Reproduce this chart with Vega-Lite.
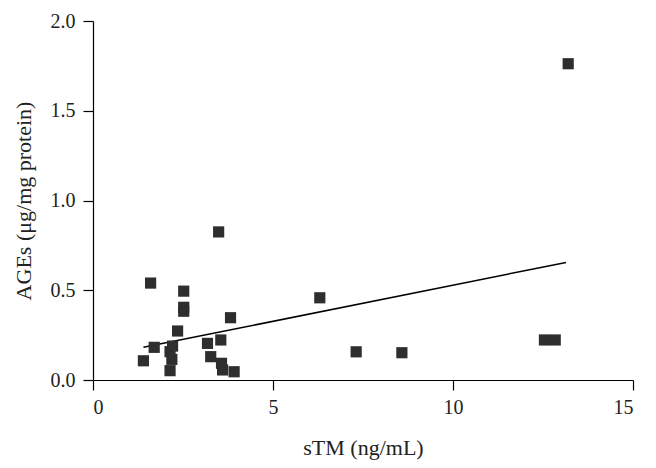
{
  "$schema": "https://vega.github.io/schema/vega-lite/v6.json",
  "width": 540,
  "height": 359,
  "autosize": {"type": "none"},
  "padding": {"left": 93, "top": 21, "right": 23, "bottom": 88},
  "background": "white",
  "config": {
    "view": {"stroke": null},
    "axis": {
      "grid": false,
      "domainColor": "#000000",
      "domainWidth": 1.2,
      "tickColor": "#000000",
      "tickWidth": 1.2,
      "tickSize": 10,
      "labelFont": "Liberation Serif",
      "labelFontSize": 20,
      "labelColor": "#222222",
      "titleFont": "Liberation Serif",
      "titleFontSize": 22,
      "titleFontWeight": "normal",
      "titleColor": "#222222"
    }
  },
  "datasets": {
    "points": [
      {"sTM": 1.40, "AGEs": 0.107},
      {"sTM": 1.60, "AGEs": 0.540},
      {"sTM": 1.70, "AGEs": 0.182},
      {"sTM": 2.14, "AGEs": 0.052},
      {"sTM": 2.19, "AGEs": 0.115},
      {"sTM": 2.14, "AGEs": 0.158},
      {"sTM": 2.21, "AGEs": 0.189},
      {"sTM": 2.35, "AGEs": 0.273},
      {"sTM": 2.52, "AGEs": 0.495},
      {"sTM": 2.52, "AGEs": 0.405},
      {"sTM": 2.52, "AGEs": 0.383},
      {"sTM": 3.18, "AGEs": 0.204},
      {"sTM": 3.27, "AGEs": 0.130},
      {"sTM": 3.49, "AGEs": 0.825},
      {"sTM": 3.55, "AGEs": 0.223},
      {"sTM": 3.57, "AGEs": 0.093},
      {"sTM": 3.60, "AGEs": 0.056},
      {"sTM": 3.82, "AGEs": 0.347},
      {"sTM": 3.92, "AGEs": 0.046},
      {"sTM": 6.30, "AGEs": 0.458},
      {"sTM": 7.31, "AGEs": 0.157},
      {"sTM": 8.58, "AGEs": 0.152},
      {"sTM": 12.54, "AGEs": 0.223},
      {"sTM": 12.84, "AGEs": 0.223},
      {"sTM": 13.20, "AGEs": 1.762}
    ],
    "fit": [
      {"sTM": 1.40, "AGEs": 0.182},
      {"sTM": 13.14, "AGEs": 0.655}
    ]
  },
  "layer": [
    {
      "data": {"name": "fit"},
      "mark": {"type": "line", "color": "#000000", "strokeWidth": 1.5},
      "encoding": {
        "x": {"field": "sTM", "type": "quantitative"},
        "y": {"field": "AGEs", "type": "quantitative"}
      }
    },
    {
      "data": {"name": "points"},
      "mark": {"type": "point", "shape": "square", "filled": true, "size": 125, "color": "#2e2e2e", "opacity": 1},
      "encoding": {
        "x": {
          "field": "sTM", "type": "quantitative",
          "scale": {"domain": [0, 15], "nice": false, "zero": false},
          "axis": {"values": [0, 5, 10, 15], "title": "sTM (ng/mL)", "labelPadding": 7, "titlePadding": 20}
        },
        "y": {
          "field": "AGEs", "type": "quantitative",
          "scale": {"domain": [0, 2], "nice": false, "zero": false},
          "axis": {"values": [0, 0.5, 1, 1.5, 2], "format": ".1f", "title": "AGEs (μg/mg protein)", "labelPadding": 8, "titlePadding": 15}
        }
      }
    }
  ]
}
